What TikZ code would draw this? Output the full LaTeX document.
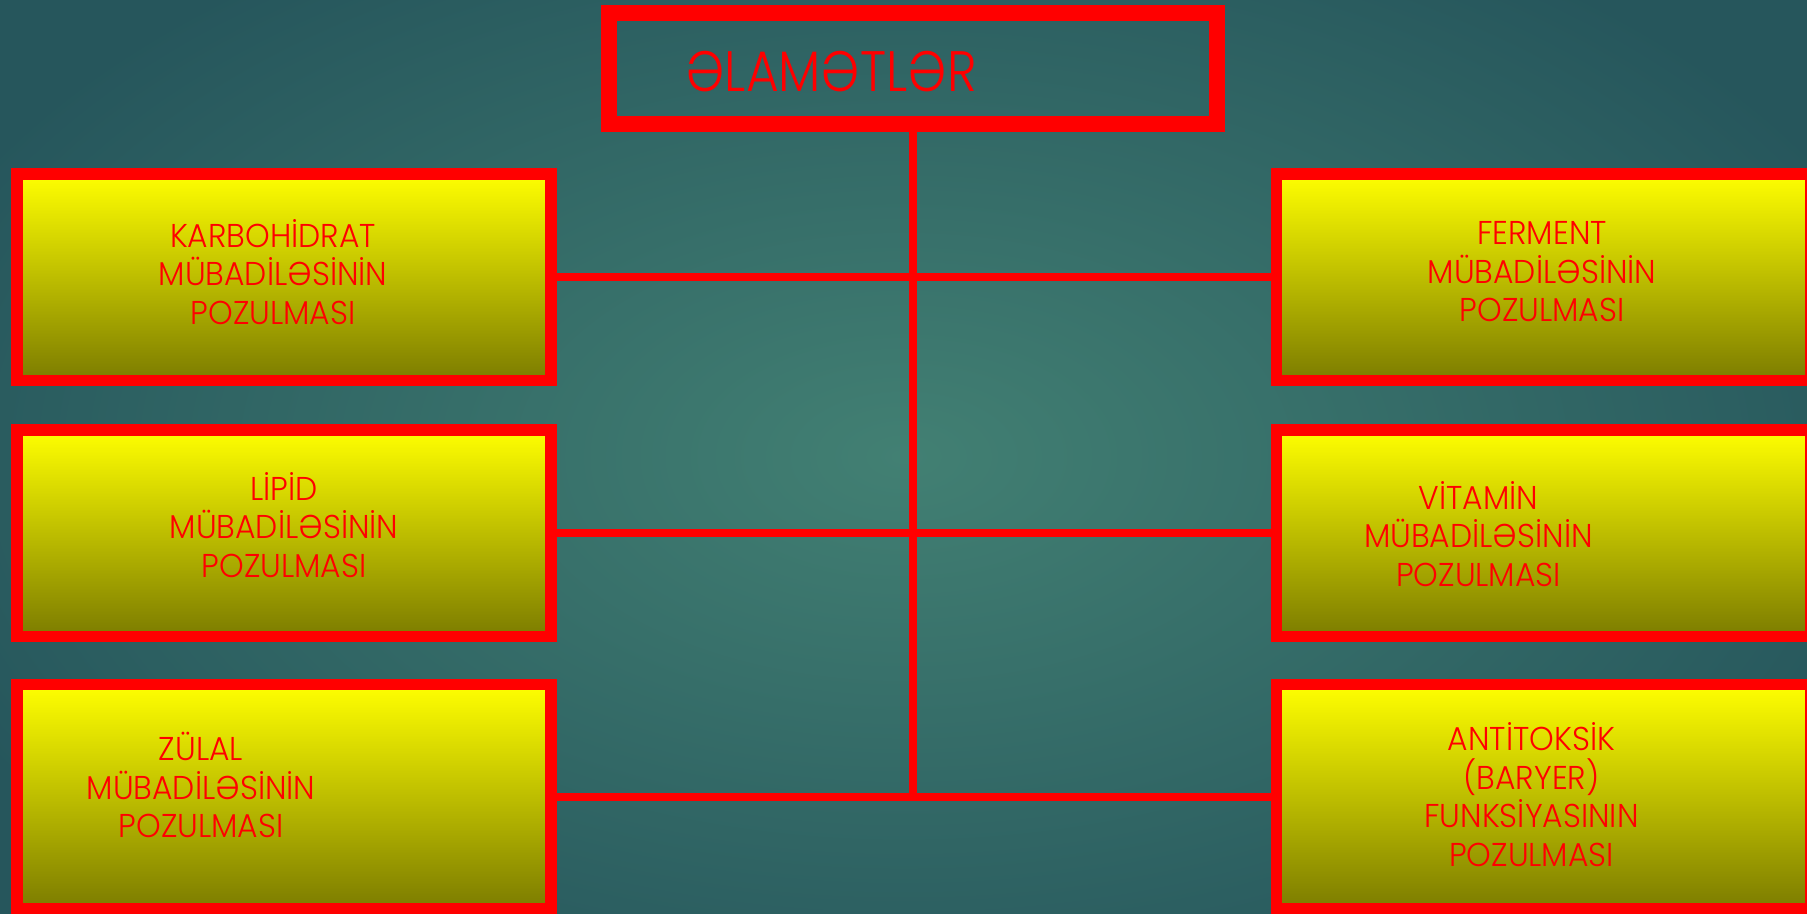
\documentclass[tikz,border=0pt]{standalone}
\usepackage{fontspec}
\setmainfont{Poppins Light}[FakeStretch=0.95]
\newfontfamily\titlefont{Poppins Light}[FakeStretch=0.88]
\definecolor{olv}{RGB}{124,124,0}
\definecolor{ylmid}{RGB}{215,215,0}
\definecolor{bginner}{RGB}{66,128,115}
\definecolor{bgouter}{RGB}{38,86,92}
\begin{document}
\begin{tikzpicture}[x=1pt,y=-1pt,
  box/.style={draw=red, line width=11.5pt, top color=yellow, middle color=ylmid, bottom color=olv,
    minimum width=533.6pt, minimum height=206.5pt, inner sep=0pt},
  titlebox/.style={draw=red, line width=16pt, minimum width=607.5pt, minimum height=110.2pt, inner sep=0pt},
  lbl/.style={text=red, font=\fontsize{33}{38.5}\selectfont, align=center, inner sep=0pt},
  conn/.style={draw=red, line width=8pt}]
\useasboundingbox (0,0) rectangle (1807,913);
\clip (0,0) rectangle (1807,913);
\shade[inner color=bginner, outer color=bgouter] (-150,-150) rectangle (1957,1063);
% connectors
\coordinate (tsouth) at (912.75,123.5);
\coordinate (lb1e) at (550.8,277);
\coordinate (lb2e) at (550.8,533);
\coordinate (lb3e) at (550.8,796.6);
% boxes
\node[titlebox] (title) at (912.75,68.4) {};
\node[box] (lb1) at (284,277) {};
\node[box] (lb2) at (284,533) {};
\node[box, minimum height=223.75pt] (lb3) at (284,796.6) {};
\node[box] (rb1) at (1543.5,277) {};
\node[box] (rb2) at (1543.5,533) {};
\node[box, minimum height=223.75pt] (rb3) at (1543.5,796.6) {};
\coordinate (stemend) at (title.south |- lb3.east);
\path[conn] (title.south) -- (stemend);
\path[conn] (lb1.east) -- (rb1.west);
\path[conn] (lb2.east) -- (rb2.west);
\path[conn] (lb3.east) -- (rb3.west);
% redraw boxes over connector ends
\node[titlebox] at (title) {};
\node[box] at (lb1) {};
\node[box] at (lb2) {};
\node[box, minimum height=223.75pt] at (lb3) {};
\node[box] at (rb1) {};
\node[box] at (rb2) {};
\node[box, minimum height=223.75pt] at (rb3) {};
% labels
\node[text=red, inner sep=0pt, font=\titlefont\fontsize{57}{60}\selectfont] (ttext) at (831,72) {ƏLAMƏTLƏR};
\node[lbl] (t1) at (273,272) {KARBOHİDRAT\\MÜBADİLƏSİNİN\\POZULMASI};
\node[lbl] (t2) at (284,525) {LİPİD\\MÜBADİLƏSİNİN\\POZULMASI};
\node[lbl] (t3) at (201,785) {ZÜLAL\\MÜBADİLƏSİNİN\\POZULMASI};
\node[lbl] (t4) at (1542,272) {FERMENT\\MÜBADİLƏSİNİN\\POZULMASI};
\node[lbl] (t5) at (1478.5,534) {VİTAMİN\\MÜBADİLƏSİNİN\\POZULMASI};
\node[lbl] (t6) at (1531.5,794.5) {ANTİTOKSİK\\(BARYER)\\FUNKSİYASININ\\POZULMASI};
\end{tikzpicture}
\end{document}
